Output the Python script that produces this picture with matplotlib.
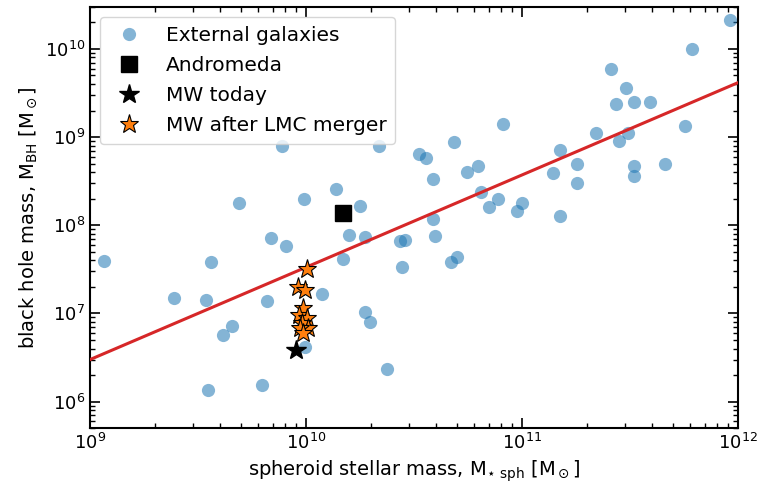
import numpy as np
import matplotlib
matplotlib.use("Agg")
import matplotlib.pyplot as plt

plt.rcParams['mathtext.default'] = 'regular'

# external galaxies: spheroid stellar mass and black hole mass [Msun]
gal_mstar = [1.16e9, 2.45e9, 3.44e9, 3.63e9, 4.90e9, 4.54e9, 4.13e9, 3.52e9, 6.25e9, 6.6e9,
             6.88e9, 8.07e9, 7.74e9, 2.18e10, 9.8e9, 1.38e10, 1.78e10, 1.58e10, 1.88e10, 1.48e10,
             1.19e10, 9.9e9, 1.88e10, 1.98e10, 2.37e10, 2.72e10, 2.87e10, 2.78e10, 3.33e10, 3.60e10,
             3.87e10, 4.84e10, 3.87e10, 3.96e10, 4.69e10, 5.0e10, 5.56e10, 6.25e10, 6.46e10, 7.03e10,
             7.74e10, 8.17e10, 9.48e10, 1.0e11, 1.39e11, 1.50e11, 1.50e11, 1.80e11, 1.80e11, 2.20e11,
             3.10e11, 2.81e11, 2.58e11, 3.03e11, 2.72e11, 3.30e11, 3.92e11, 3.30e11, 3.30e11, 4.59e11,
             5.68e11, 6.13e11, 9.18e11]
gal_mbh = [3.95e7, 1.50e7, 1.42e7, 3.85e7, 1.80e8, 7.2e6, 5.7e6, 1.35e6, 1.54e6, 1.39e7,
           7.2e7, 5.85e7, 8.0e8, 8.0e8, 2.0e8, 2.6e8, 1.67e8, 7.8e7, 7.4e7, 4.16e7,
           1.67e7, 4.16e6, 1.04e7, 8.0e6, 2.34e6, 6.67e7, 6.85e7, 3.37e7, 6.5e8, 5.85e8,
           3.37e8, 8.7e8, 1.19e8, 7.6e7, 3.85e7, 4.38e7, 4.06e8, 4.75e8, 2.40e8, 1.62e8,
           2.0e8, 1.42e9, 1.46e8, 1.80e8, 3.95e8, 7.2e8, 1.28e8, 5.0e8, 3.04e8, 1.12e9,
           1.12e9, 9.1e8, 5.85e9, 3.65e9, 2.40e9, 2.53e9, 2.53e9, 4.75e8, 3.65e8, 5.0e8,
           1.32e9, 9.86e9, 2.11e10]

# Andromeda and Milky Way
m31_mstar, m31_mbh = 1.48e10, 1.39e8
mw_mstar, mw_mbh = 9.0e9, 3.85e6

# MW after LMC merger (several realisations)
lmc_mstar = [1.01e10, 9.2e9, 9.9e9, 9.7e9, 9.3e9, 1.01e10, 9.6e9, 1.02e10, 9.4e9, 9.7e9]
lmc_mbh = [3.2e7, 2.0e7, 1.85e7, 1.16e7, 9.6e6, 8.9e6, 7.8e6, 6.8e6, 6.8e6, 6.0e6]

# scaling relation, end points
rel_mstar = [1e9, 1e12]
rel_mbh = [3.0e6, 4.15e9]

fig = plt.figure(figsize=(7.57, 4.91), dpi=100)
ax = fig.add_axes([0.119, 0.128, 0.856, 0.858])

ax.plot(gal_mstar, gal_mbh, 'o', color='#1f77b4', alpha=0.55, markersize=9.5,
        markeredgewidth=0, label='External galaxies', zorder=2)
ax.plot(rel_mstar, rel_mbh, '-', color='#d62728', lw=2.2, zorder=3)
ax.plot(m31_mstar, m31_mbh, 's', color='black', markersize=12, label='Andromeda', zorder=4)
ax.plot(mw_mstar, mw_mbh, '*', color='black', markersize=15, label='MW today', zorder=4)
ax.plot(lmc_mstar, lmc_mbh, '*', color='#ff7f0e', markeredgecolor='black',
        markeredgewidth=0.8, markersize=14, label='MW after LMC merger', zorder=5)

ax.set_xscale('log')
ax.set_yscale('log')
ax.set_xlim(1e9, 1e12)
ax.set_ylim(5e5, 3e10)

ax.set_xlabel(r'spheroid stellar mass, $M_{\star\ sph}$ [$M_\odot$]', fontsize=14)
ax.set_ylabel(r'black hole mass, $M_{BH}$ [$M_\odot$]', fontsize=14)

ax.tick_params(which='both', direction='in', top=True, right=True, labelsize=13)
ax.tick_params(which='major', length=7, width=1.2)
ax.tick_params(which='minor', length=3.5, width=1.0)
for sp in ax.spines.values():
    sp.set_linewidth(1.5)

ax.legend(loc='upper left', fontsize=14.5, handletextpad=0.8, borderpad=0.45,
          labelspacing=0.55)

fig.savefig('out.png', dpi=100)
